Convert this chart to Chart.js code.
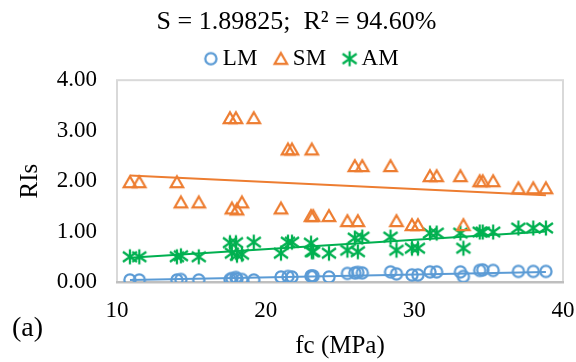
<!DOCTYPE html>
<html>
<head>
<meta charset="utf-8">
<script src="https://cdn.jsdelivr.net/npm/chart.js@4/dist/chart.umd.min.js"></script>
<style>
  html, body { margin: 0; padding: 0; background: #fff; }
  #wrap { width: 576px; height: 362px; }
</style>
</head>
<body>
<div id="wrap"><canvas id="c" width="576" height="362"></canvas></div>
<script>
// Compressive strength of each specimen (MPa)
const fc = [10.87, 11.5, 14.03, 14.3, 15.5, 17.6, 17.73, 18.0, 18.07, 18.4, 19.2,
            21.03, 21.5, 21.77, 23.05, 23.1, 23.2, 24.26, 25.5, 26.0, 26.2, 26.5,
            28.4, 28.8, 29.84, 30.24, 31.05, 31.5, 33.1, 33.3, 34.4, 34.6, 35.3,
            37.0, 38.0, 38.85];
// RI values per method
const lm = [0.04, 0.04, 0.04, 0.05, 0.04, 0.05, 0.07, 0.09, 0.06, 0.05, 0.04,
            0.10, 0.11, 0.10, 0.12, 0.11, 0.12, 0.10, 0.17, 0.18, 0.19, 0.18,
            0.20, 0.16, 0.14, 0.14, 0.20, 0.20, 0.20, 0.11, 0.23, 0.24, 0.23,
            0.21, 0.21, 0.21];
const sm = [1.98, 1.98, 1.98, 1.58, 1.58, 3.25, 1.46, 3.25, 1.44, 1.58, 3.25,
            1.46, 2.63, 2.63, 1.31, 2.63, 1.31, 1.31, 1.21, 2.30, 1.21, 2.30,
            2.30, 1.21, 1.13, 1.13, 2.10, 2.10, 2.10, 1.13, 2.00, 2.00, 2.00,
            1.86, 1.86, 1.86];
const am = [0.50, 0.50, 0.50, 0.52, 0.50, 0.78, 0.57, 0.78, 0.53, 0.55, 0.79,
            0.57, 0.79, 0.79, 0.77, 0.60, 0.60, 0.57, 0.63, 0.87, 0.60, 0.89,
            0.89, 0.63, 0.67, 0.67, 0.97, 0.97, 0.97, 0.67, 0.99, 0.99, 0.99,
            1.07, 1.07, 1.07];
// Linear trend lines: end points over the fc range
const trendX  = [10.87, 38.85];
const lmTrend = [0.04, 0.20];
const smTrend = [2.11, 1.72];
const amTrend = [0.48, 1.00];

const seriesNames = ['LM', 'SM', 'AM'];
const xTicks = [10, 20, 30, 40];
const yTicks = [0, 1, 2, 3, 4];
const headline = 'S = 1.89825;  R\u00B2 = 94.60%';
const panelLabel = '(a)';

const COLORS = { LM: '#5B9BD5', SM: '#ED7D31', AM: '#00B050' };
const SERIF = '"Liberation Serif", "Times New Roman", serif';

// Hollow marker drawn on a small canvas; dx shifts the glyph inside it
function marker(kind, color, dx) {
  dx = dx || 0;
  const size = 20;
  const c = document.createElement('canvas');
  c.width = size + 2 * Math.abs(dx);
  c.height = size;
  const g = c.getContext('2d');
  g.strokeStyle = color;
  g.lineWidth = 2.25;
  const cx = c.width / 2 + dx, cy = size / 2;
  g.beginPath();
  if (kind === 'circle') {
    g.arc(cx, cy, 5.6, 0, Math.PI * 2);
  } else if (kind === 'triangle') {
    g.moveTo(cx, cy - 5.8);
    g.lineTo(cx + 6.2, cy + 5);
    g.lineTo(cx - 6.2, cy + 5);
    g.closePath();
  } else {
    g.moveTo(cx, cy - 7.5); g.lineTo(cx, cy + 7.5);
    g.moveTo(cx - 7, cy - 5); g.lineTo(cx + 7, cy + 5);
    g.moveTo(cx + 7, cy - 5); g.lineTo(cx - 7, cy + 5);
  }
  g.stroke();
  return c;
}

const kinds = { LM: 'circle', SM: 'triangle', AM: 'star' };
const pointMarks = {}, legendMarks = {};
seriesNames.forEach(n => {
  pointMarks[n] = marker(kinds[n], COLORS[n], 0);
  legendMarks[n] = marker(kinds[n], COLORS[n], 8);
});

const values = { LM: lm, SM: sm, AM: am };
const trends = { LM: lmTrend, SM: smTrend, AM: amTrend };

const datasets = [];
seriesNames.forEach(n => {
  datasets.push({
    label: n,
    data: fc.map((x, i) => ({ x: x, y: values[n][i] })),
    pointStyle: pointMarks[n],
    pointRadius: 6,
    borderColor: COLORS[n],
    backgroundColor: COLORS[n],
    showLine: false,
    order: 1
  });
});
seriesNames.forEach(n => {
  datasets.push({
    label: n + ' trend',
    data: trendX.map((x, i) => ({ x: x, y: trends[n][i] })),
    showLine: true,
    pointRadius: 0,
    borderColor: COLORS[n],
    borderWidth: 2,
    order: 0
  });
});

// Plot frame underneath the axes, plus the panel tag
const framePlugin = {
  id: 'frame',
  beforeDraw(chart) {
    const { ctx, chartArea: a } = chart;
    ctx.save();
    ctx.strokeStyle = '#D9D9D9';
    ctx.lineWidth = 2;
    ctx.strokeRect(a.left, a.top, a.right - a.left, a.bottom - a.top);
    ctx.restore();
  },
  afterDraw(chart) {
    const ctx = chart.ctx;
    ctx.save();
    ctx.font = '28px ' + SERIF;
    ctx.fillStyle = '#000';
    ctx.textBaseline = 'middle';
    ctx.textAlign = 'left';
    ctx.fillText(panelLabel, 12, 329);
    ctx.restore();
  }
};

new Chart(document.getElementById('c'), {
  type: 'scatter',
  data: { datasets: datasets },
  plugins: [framePlugin],
  options: {
    responsive: false,
    animation: false,
    events: [],
    layout: { padding: { left: 30, right: 13, top: 0, bottom: 0 } },
    plugins: {
      tooltip: { enabled: false },
      title: {
        display: true,
        text: headline,
        color: '#000',
        font: { family: SERIF, size: 26, weight: 'normal', lineHeight: 1.2 },
        padding: { top: 7, bottom: 2 }
      },
      legend: {
        display: true,
        position: 'top',
        labels: {
          usePointStyle: true,
          boxWidth: 17,
          padding: 7,
          color: '#000',
          font: { family: SERIF, size: 23 },
          filter: item => item.datasetIndex < 3,
          generateLabels: chart => {
            const items = Chart.defaults.plugins.legend.labels.generateLabels(chart);
            items.forEach(it => {
              if (legendMarks[it.text]) it.pointStyle = legendMarks[it.text];
            });
            return items;
          }
        }
      }
    },
    scales: {
      x: {
        type: 'linear',
        min: 10,
        max: 40,
        afterBuildTicks: s => { s.ticks = xTicks.map(v => ({ value: v })); },
        afterFit: s => { s.height = 80; s.paddingLeft = 0; s.paddingRight = 0; },
        grid: { display: false, drawTicks: false },
        border: { display: true, color: '#BFBFBF', width: 2.5 },
        ticks: {
          color: '#000',
          padding: 15,
          font: { family: SERIF, size: 23 },
          callback: v => String(v)
        },
        title: {
          display: true,
          text: 'fc (MPa)',
          color: '#000',
          font: { family: SERIF, size: 25, lineHeight: 1.2 },
          padding: { top: 0, bottom: 1 }
        }
      },
      y: {
        type: 'linear',
        min: 0,
        max: 4,
        afterBuildTicks: s => { s.ticks = yTicks.map(v => ({ value: v })); },
        afterFit: s => { s.width = 87; },
        grid: { display: false, drawTicks: false },
        border: { display: false },
        ticks: {
          color: '#000',
          padding: 20,
          font: { family: SERIF, size: 23 },
          callback: v => Number(v).toFixed(2)
        },
        title: {
          display: true,
          text: 'RIs',
          color: '#000',
          font: { family: SERIF, size: 25, lineHeight: 1.2 },
          padding: { top: -15, bottom: 0 }
        }
      }
    }
  }
});
</script>
</body>
</html>
